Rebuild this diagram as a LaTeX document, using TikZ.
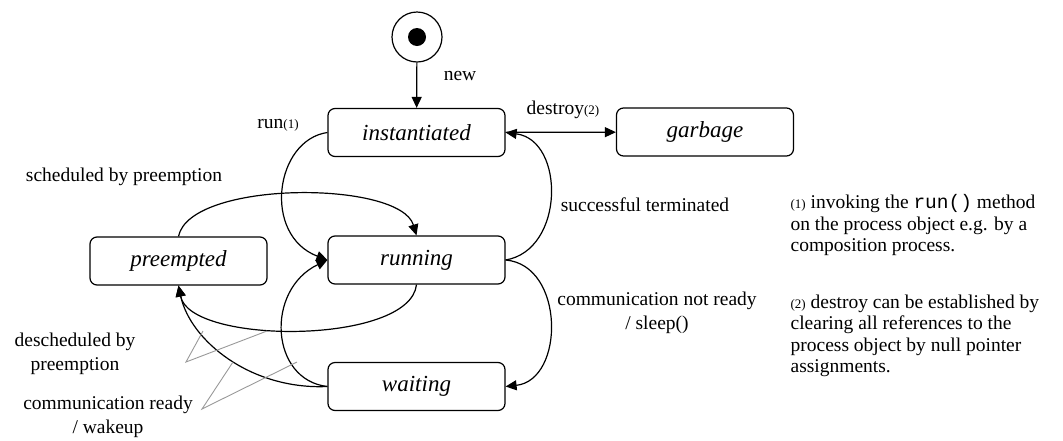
\documentclass[tikz,border=0pt]{standalone}
\usepackage{fontspec}
\setmainfont{Liberation Serif}
\setmonofont{Liberation Mono}
\usetikzlibrary{arrows.meta}

\newcommand{\fnref}[1]{{\fontsize{13}{15}\selectfont(#1)}}

\begin{document}
\begin{tikzpicture}[x=1pt, y=-1pt, line width=1.2pt, >={Triangle[length=11pt,width=10pt]},
  state/.style={draw, rounded corners=7pt, minimum width=177pt, minimum height=48pt, font=\fontsize{23}{27}\selectfont\itshape},
  lbl/.style={font=\fontsize{19.5}{24}\selectfont, align=center, inner sep=0pt},
  note/.style={font=\fontsize{19.5}{21.5}\selectfont, align=left, anchor=north west, inner sep=0pt},
  pointer/.style={draw=gray!80, line width=0.9pt}]
\useasboundingbox (0,0) rectangle (1063,440);
\node[circle, draw, minimum size=50pt, inner sep=0pt] (start) at (417,37) {};
\node[circle, fill, minimum size=18pt, inner sep=0pt] (startdot) at (start) {};
\node[state] (inst) at (416.5,132.5) {instantiated};
\node[state] (garb) at (705,132) {garbage};
\node[state] (run) at (416.5,260) {running};
\node[state] (pre) at (178.5,261) {preempted};
\node[state] (wait) at (416.5,386.5) {waiting};

\draw[->] (start) -- (inst);
\draw[->] (inst) -- (garb);
\draw[->] (inst.west) .. controls (275,140) and (262,235) .. (run.west);
\draw[->] (wait.west) .. controls (270,380) and (265,290) .. (run.west);
\draw[->] (pre.north) .. controls (190,180) and (400,180) .. (run.north);
\draw[->] (run.south) .. controls (410,345) and (190,345) .. (pre.south);
\draw[->] (wait.west) .. controls (250,390) and (190,340) .. (pre.south);
\draw[->] (run.east) .. controls (565,250) and (565,140) .. (inst.east);
\draw[->] (run.east) .. controls (565,265) and (565,380) .. (wait.east);

\node[lbl] (newlbl) at (460,76) {new};
\node[lbl] (runlbl) at (278,125) {run\fnref{1}};
\node[lbl] (destlbl) at (563,110) {destroy\fnref{2}};
\node[lbl] (schedlbl) at (124,177) {scheduled by preemption};
\node[lbl] (succlbl) at (645,205) {successful terminated};
\node[lbl] (sleeplbl) at (657,313) {communication not ready\\/ sleep()};
\node[lbl] (deschedlbl) at (75,354) {descheduled by\\preemption};
\node[lbl] (wakelbl) at (108,417) {communication ready\\/ wakeup};

\node[note] (note1) at (790,194) {\fnref{1} invoking the \texttt{run()} method\\on the process object e.g. by a\\composition process.};
\node[note] (note2) at (790,294) {\fnref{2} destroy can be established by\\clearing all references to the\\process object by null pointer\\assignments.};

\coordinate (dvtx) at (186,362);
\coordinate (dend1) at (203,331);
\coordinate (dend2) at (267,331);
\coordinate (wvtx) at (202,409);
\coordinate (wend1) at (233,362);
\coordinate (wend2) at (297,362);
\draw[pointer] (dend1) -- (dvtx) -- (dend2);
\draw[pointer] (wend1) -- (wvtx) -- (wend2);
\end{tikzpicture}
\end{document}
